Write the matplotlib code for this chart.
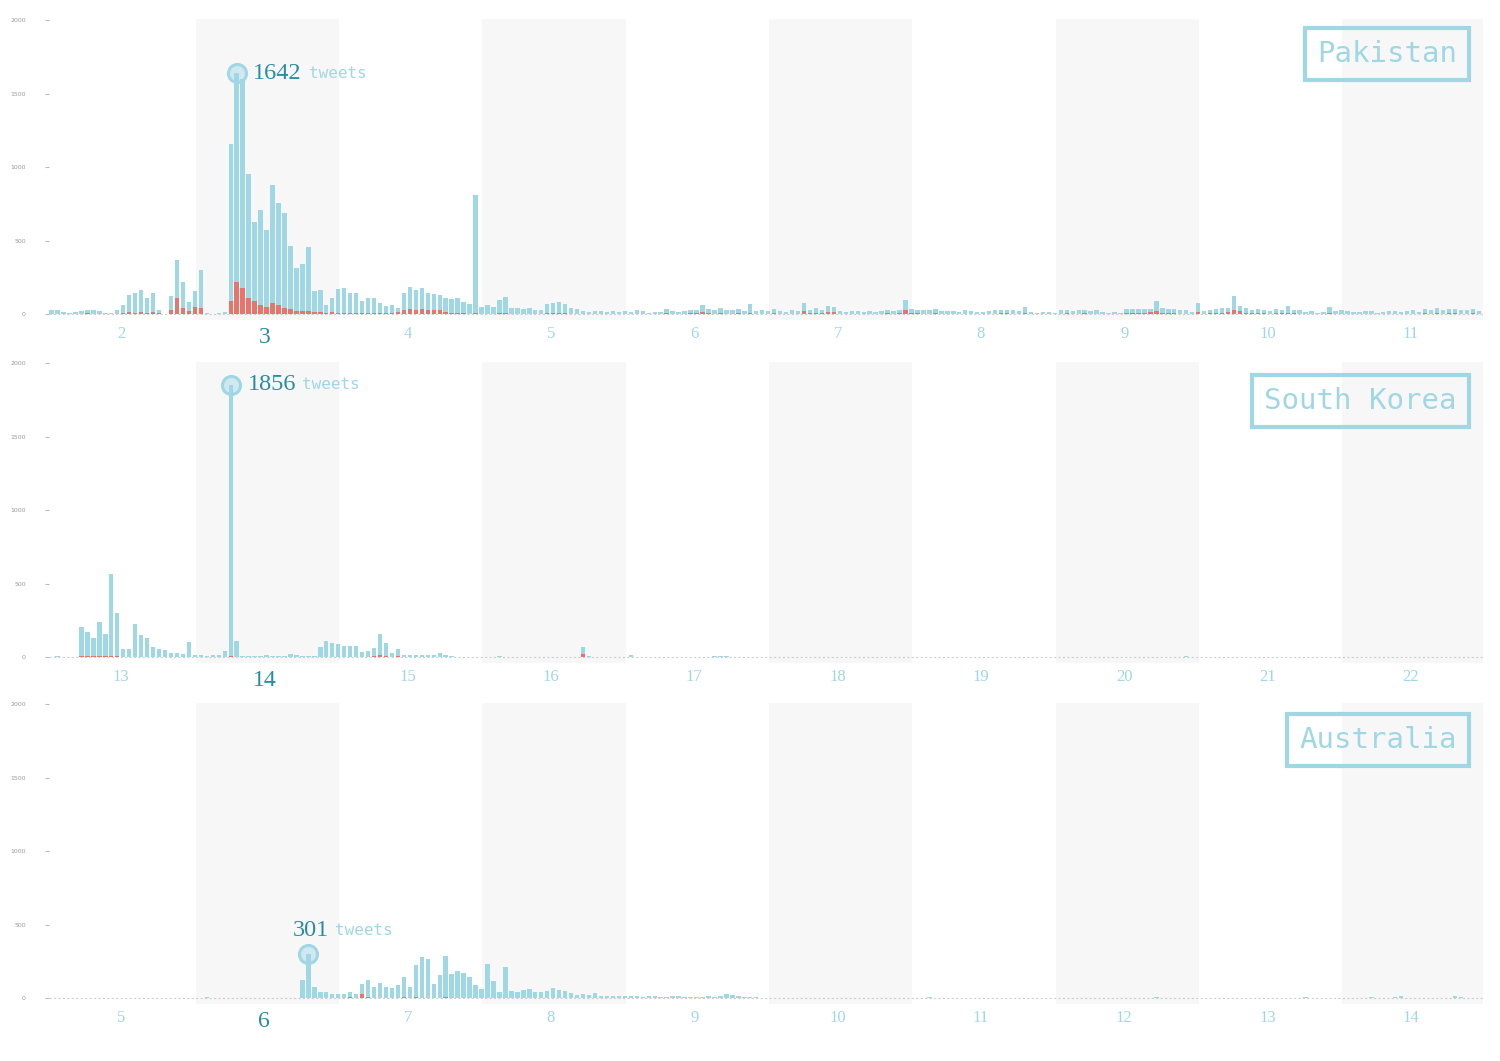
import matplotlib.pyplot as plt
import numpy as np

# hourly tweet counts, 24 values per day, 10 days per country
pakistan_days = [2, 3, 4, 5, 6, 7, 8, 9, 10, 11]
pakistan_all = [
    30, 28, 12, 10, 14, 20, 28, 25, 18, 10, 6, 30, 61, 130, 145, 163, 111, 145, 27, 0, 122, 367, 220, 84,
    156, 300, 5, 3, 8, 12, 1157, 1642, 1603, 957, 628, 712, 571, 878, 757, 689, 463, 317, 340, 454, 159, 163, 61, 107,
    168, 175, 141, 145, 91, 113, 113, 73, 54, 61, 45, 147, 186, 163, 177, 145, 136, 129, 107, 100, 113, 82, 68, 810,
    50, 59, 50, 95, 118, 40, 45, 38, 42, 25, 27, 68, 75, 84, 70, 39, 35, 20, 16, 22, 18, 12, 20, 15,
    18, 12, 30, 20, 10, 15, 12, 35, 18, 14, 20, 25, 30, 64, 35, 28, 39, 30, 25, 35, 20, 68, 20, 25,
    18, 32, 22, 15, 28, 20, 73, 30, 39, 25, 54, 50, 20, 16, 18, 23, 12, 20, 15, 22, 25, 18, 30, 95,
    32, 28, 30, 25, 32, 22, 18, 20, 15, 25, 22, 12, 15, 22, 25, 28, 30, 25, 20, 50, 12, 10, 15, 12,
    8, 25, 30, 22, 28, 30, 20, 25, 15, 8, 12, 10, 32, 35, 38, 33, 36, 91, 40, 35, 33, 28, 25, 15,
    73, 20, 30, 35, 40, 45, 122, 55, 40, 30, 35, 28, 20, 35, 30, 54, 30, 25, 12, 18, 10, 15, 50, 20,
    25, 18, 15, 12, 22, 18, 10, 15, 20, 18, 12, 20, 25, 15, 35, 30, 40, 28, 35, 38, 30, 25, 32, 20,
]
pakistan_neg = [
    0, 0, 0, 0, 0, 0, 5, 0, 0, 0, 0, 0, 10, 15, 10, 12, 10, 12, 5, 0, 27, 107, 39, 20,
    50, 39, 0, 0, 0, 0, 91, 220, 181, 107, 91, 61, 50, 73, 61, 45, 32, 23, 23, 23, 16, 14, 10, 12,
    10, 8, 8, 6, 5, 5, 5, 5, 5, 5, 12, 30, 38, 30, 35, 28, 30, 28, 15, 8, 5, 5, 3, 5,
    3, 3, 0, 5, 5, 3, 3, 3, 3, 0, 0, 5, 5, 5, 5, 3, 0, 0, 0, 3, 0, 0, 0, 0,
    0, 0, 3, 0, 0, 0, 0, 5, 0, 0, 3, 5, 5, 15, 5, 3, 5, 3, 3, 5, 0, 8, 0, 3,
    0, 5, 3, 0, 3, 0, 22, 5, 8, 5, 15, 12, 3, 0, 0, 3, 0, 0, 0, 3, 5, 3, 5, 25,
    5, 5, 3, 3, 5, 3, 0, 0, 0, 3, 0, 0, 0, 3, 3, 5, 5, 3, 0, 8, 0, 0, 0, 0,
    0, 3, 5, 3, 3, 5, 0, 3, 0, 0, 0, 0, 5, 8, 10, 10, 12, 20, 8, 5, 5, 3, 3, 0,
    12, 3, 5, 8, 10, 15, 28, 20, 10, 5, 5, 5, 3, 5, 5, 10, 5, 3, 0, 0, 0, 3, 8, 3,
    3, 0, 0, 0, 3, 0, 0, 0, 3, 0, 0, 3, 3, 0, 5, 3, 5, 3, 5, 5, 3, 3, 5, 0,
]

korea_days = [13, 14, 15, 16, 17, 18, 19, 20, 21, 22]
korea_all = [
    0, 7, 3, 0, 3, 206, 168, 132, 240, 156, 565, 304, 54, 54, 224, 152, 132, 66, 54, 48, 25, 25, 20, 104,
    18, 12, 8, 12, 18, 39, 1856, 109, 8, 10, 6, 8, 14, 10, 8, 10, 22, 12, 8, 6, 10, 70, 111, 93,
    88, 79, 79, 75, 36, 41, 59, 161, 97, 29, 57, 18, 14, 14, 14, 14, 14, 25, 12, 10, 4, 3, 3, 2,
    0, 2, 0, 5, 0, 3, 0, 0, 0, 2, 0, 0, 0, 0, 0, 0, 0, 70, 10, 0, 0, 2, 0, 3,
    0, 18, 0, 0, 0, 0, 2, 0, 0, 0, 0, 0, 0, 0, 0, 8, 8, 8, 0, 0, 0, 0, 0, 0,
    0, 0, 0, 0, 0, 0, 0, 0, 0, 0, 0, 2, 0, 0, 0, 0, 0, 0, 0, 0, 0, 0, 0, 0,
    0, 0, 0, 0, 0, 0, 0, 3, 3, 0, 0, 0, 0, 0, 0, 0, 0, 0, 0, 0, 0, 0, 0, 0,
    0, 0, 0, 0, 0, 0, 0, 0, 0, 0, 0, 0, 0, 0, 0, 0, 0, 0, 0, 0, 0, 0, 5, 0,
    0, 0, 0, 0, 0, 0, 0, 0, 3, 0, 0, 0, 0, 0, 0, 0, 0, 0, 3, 0, 0, 0, 0, 3,
    0, 0, 0, 0, 3, 0, 0, 0, 0, 0, 0, 0, 0, 0, 0, 3, 0, 0, 0, 0, 0, 0, 0, 0,
]
korea_neg = [
    0, 0, 0, 0, 0, 10, 8, 8, 10, 5, 8, 5, 0, 0, 3, 0, 0, 0, 0, 0, 0, 0, 0, 0,
    0, 0, 0, 0, 0, 0, 5, 3, 0, 0, 0, 0, 0, 0, 0, 0, 0, 0, 0, 0, 0, 3, 3, 3,
    3, 3, 3, 3, 3, 3, 5, 18, 10, 3, 8, 3, 0, 0, 0, 0, 0, 0, 0, 0, 0, 0, 0, 0,
    0, 0, 0, 0, 0, 0, 0, 0, 0, 0, 0, 0, 0, 0, 0, 0, 0, 20, 3, 0, 0, 0, 0, 0,
] + [0] * 144

australia_days = [5, 6, 7, 8, 9, 10, 11, 12, 13, 14]
australia_all = [
    0, 0, 0, 2, 0, 0, 0, 0, 0, 0, 2, 0, 0, 0, 0, 0, 0, 0, 0, 0, 0, 0, 0, 0,
    0, 0, 8, 0, 0, 0, 2, 0, 0, 0, 0, 0, 3, 0, 0, 0, 3, 3, 122, 301, 73, 43, 43, 25,
    27, 27, 39, 25, 93, 122, 73, 100, 73, 66, 88, 145, 73, 224, 277, 270, 95, 161, 286, 163, 184, 172, 145, 88,
    61, 231, 118, 43, 213, 50, 39, 54, 59, 39, 39, 48, 70, 54, 50, 32, 20, 27, 20, 32, 16, 16, 16, 12,
    15, 18, 12, 10, 14, 12, 8, 10, 12, 15, 10, 8, 6, 10, 12, 8, 18, 25, 22, 15, 8, 6, 5, 4,
    3, 0, 2, 0, 0, 3, 0, 2, 0, 0, 0, 3, 0, 0, 2, 0, 0, 0, 2, 0, 0, 3, 0, 0,
    0, 0, 2, 10, 0, 0, 0, 0, 0, 0, 3, 0, 0, 0, 0, 0, 2, 0, 0, 0, 0, 0, 0, 0,
    0, 0, 0, 0, 0, 0, 0, 0, 0, 0, 0, 0, 0, 0, 0, 0, 0, 10, 0, 0, 0, 0, 0, 0,
    0, 0, 0, 0, 0, 0, 0, 0, 0, 0, 0, 0, 0, 0, 0, 0, 0, 0, 8, 0, 0, 0, 0, 0,
    0, 0, 3, 0, 0, 5, 0, 3, 0, 5, 18, 3, 0, 0, 0, 0, 0, 0, 0, 12, 5, 0, 0, 0,
]
australia_neg = [0] * 48 + [
    0, 0, 8, 0, 25, 5, 0, 3, 0, 3, 3, 5, 0, 5, 3, 3, 3, 3, 8, 3, 3, 3, 3, 0,
] + [0] * 168

countries = ["Pakistan", "South Korea", "Australia"]

BLUE = "#a0d7e5"
RED = "#e8756b"
DARK = "#2a8ca3"
BAND = "#f7f7f7"

fig = plt.figure(figsize=(15, 10.61), dpi=100)

# axes boxes in figure fractions (left, bottom, width, height)
boxes = [
    [0.0329, 0.6984, 0.9555, 0.2837],
    [0.0329, 0.3751, 0.9555, 0.2837],
    [0.0329, 0.0537, 0.9555, 0.2837],
]
# where the label for each panel's peak goes (offsets in points)
peak_text = [
    dict(num=(12, 0), word=(52, 0)),
    dict(num=(12, 0), word=(51, 0)),
    dict(num=(-11, 17), word=(19, 17)),
]
label_pos = [(0.982, 0.883), (0.982, 0.870), (0.982, 0.877)]

panels = [
    (pakistan_days, pakistan_all, pakistan_neg),
    (korea_days, korea_all, korea_neg),
    (australia_days, australia_all, australia_neg),
]

for k, (days, total, neg) in enumerate(panels):
    ax = fig.add_axes(boxes[k])
    hours = np.arange(len(total))
    total = np.array(total)
    neg = np.array(neg)

    # alternate day shading
    for d in range(len(days)):
        if d % 2 == 1:
            ax.axvspan(d * 24 + 0.5, (d + 1) * 24 + 0.5, color=BAND, lw=0, zorder=0)

    ax.axhline(0, color="#cfcfcf", lw=0.8, ls=(0, (2, 2)), zorder=1)
    ax.bar(hours, total, width=0.74, align="edge", color=BLUE, lw=0, zorder=2)
    ax.bar(hours, neg, width=0.74, align="edge", color=RED, lw=0, zorder=3)

    ax.set_xlim(0, 24 * len(days))
    ax.set_ylim(-40, 2010)

    # peak marker and label
    pk = int(np.argmax(total))
    px = pk + 0.37
    ax.plot(px, total[pk], "o", ms=13, mfc=(0.63, 0.84, 0.9, 0.45),
            mec=BLUE, mew=2.2, zorder=5)
    ax.annotate(str(total[pk]), (px, total[pk]), xytext=peak_text[k]["num"],
                textcoords="offset points", ha="left", va="center",
                fontsize=17.5, color=DARK, family="Liberation Serif", zorder=6)
    ax.annotate("tweets", (px, total[pk]), xytext=peak_text[k]["word"],
                textcoords="offset points", ha="left", va="center",
                fontsize=11.5, color=BLUE, family="DejaVu Sans Mono", zorder=6)

    # day labels under the axis
    peak_day = pk // 24
    for d, day in enumerate(days):
        if d == peak_day:
            ax.text(d * 24 + 12, -158, str(day), ha="center", va="center",
                    fontsize=17, color=DARK, family="Liberation Serif")
        else:
            ax.text(d * 24 + 12, -138, str(day), ha="center", va="center",
                    fontsize=12, color=BLUE, family="Liberation Serif")

    # country name in a box
    ax.text(label_pos[k][0], label_pos[k][1], countries[k], transform=ax.transAxes,
            ha="right", va="center", fontsize=21, color=BLUE, family="DejaVu Sans Mono",
            bbox=dict(boxstyle="square,pad=0.42", fc="none", ec=BLUE, lw=3), zorder=6)

    ax.set_yticks([0, 500, 1000, 1500, 2000])
    ax.set_yticklabels(["0", "500", "1000", "1500", "2000"])
    ax.tick_params(axis="y", length=3, width=0.8, color="#bbbbbb", pad=14,
                   labelsize=4.5, labelcolor="#999999")
    ax.set_xticks([])
    for s in ax.spines.values():
        s.set_visible(False)

fig.savefig("out.png", dpi=100)
